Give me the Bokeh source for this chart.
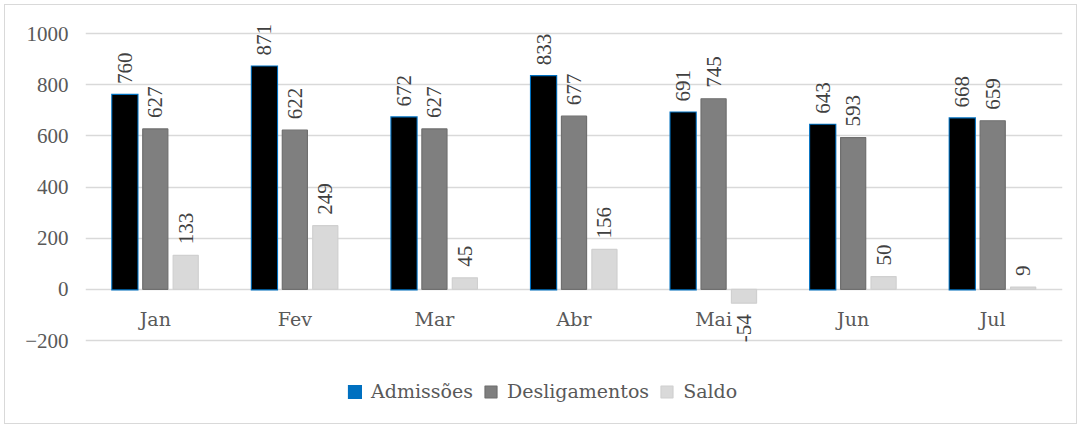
import math
from bokeh.plotting import figure
from bokeh.models import FactorRange, Range1d, FixedTicker, ColumnDataSource, Legend, LegendItem
from bokeh.transform import dodge
from bokeh.core.properties import value
from bokeh.embed import file_html
from bokeh.resources import INLINE

# ---- data ----
months = ["Jan", "Fev", "Mar", "Abr", "Mai", "Jun", "Jul"]
admissoes = [760, 871, 672, 833, 691, 643, 668]
desligamentos = [627, 622, 627, 677, 745, 593, 659]
saldo = [133, 249, 45, 156, -54, 50, 9]
series_names = ["Admissões", "Desligamentos", "Saldo"]
y_ticks = [-200, 0, 200, 400, 600, 800, 1000]

# ---- layout ----
W, H = 1073, 420
LEFT, RIGHT, TOP, BOTTOM = 80, 16, 0, 8
frame_h = H - TOP - BOTTOM
px_per_unit = 307 / 1200.0
y_end = y_ticks[-1] + 28 / px_per_unit
y_start = y_end - frame_h / px_per_unit

NUM_FONT = value("Liberation Serif")
TXT_FONT = value("DejaVu Serif")
TEXT_COLOR = "#595959"

p = figure(width=W, height=H, x_range=FactorRange(factors=months),
           y_range=Range1d(y_start, y_end), x_axis_location=None,
           output_backend="svg", toolbar_location=None,
           min_border_left=LEFT, min_border_right=RIGHT,
           min_border_top=TOP, min_border_bottom=BOTTOM)
p.margin = (4, 0, 0, 4)
p.styles = {"border": "1px solid #d9d9d9"}
p.outline_line_color = None
p.xgrid.grid_line_color = None
p.ygrid.ticker = FixedTicker(ticks=y_ticks)
p.ygrid.grid_line_color = "#d9d9d9"
p.ygrid.grid_line_width = 1.5

p.yaxis.ticker = FixedTicker(ticks=y_ticks)
p.yaxis.axis_line_color = None
p.yaxis.major_tick_line_color = None
p.yaxis.minor_tick_line_color = None
p.yaxis.major_tick_out = 0
p.yaxis.major_label_standoff = 17
p.yaxis.major_label_text_font = "Liberation Serif"
p.yaxis.major_label_text_font_size = "21px"
p.yaxis.major_label_text_color = TEXT_COLOR

OFF = 0.218
BW = 0.18
specs = [
    (admissoes, -OFF, "#000000", "#0070C0"),
    (desligamentos, 0.0, "#7f7f7f", "#6f6f6f"),
    (saldo, OFF, "#d9d9d9", "#d0d0d0"),
]
renderers = []
for k, (vals, off, fill, line) in enumerate(specs):
    src = ColumnDataSource(dict(x=months, top=vals))
    xs = dodge("x", off, range=p.x_range)
    if k == 0:
        # blue bar with outline, black fill drawn over it -> thin blue edge
        r = p.vbar(x=xs, top="top", bottom=0, width=BW, source=src,
                   fill_color=line, line_color=line, line_width=2.2,
                   line_join="miter")
        p.vbar(x=xs, top="top", bottom=0, width=BW, source=src,
               fill_color=fill, line_color=None)
    else:
        r = p.vbar(x=xs, top="top", bottom=0, width=BW, source=src,
                   fill_color=fill, line_color=line, line_width=1.2)
    renderers.append(r)
    pos = [(m, v, str(v)) for m, v in zip(months, vals) if v >= 0]
    neg = [(m, v, str(v)) for m, v in zip(months, vals) if v < 0]
    for items, align, yoff in ((pos, "left", -11), (neg, "right", 11)):
        if not items:
            continue
        s = ColumnDataSource(dict(x=[i[0] for i in items], y=[i[1] for i in items],
                                  t=[i[2] for i in items]))
        p.text(x=dodge("x", off, range=p.x_range), y="y", text="t", source=s,
               angle=math.pi / 2, text_align=align, text_baseline="middle",
               y_offset=yoff, text_font=NUM_FONT, text_font_size="21px",
               text_color="#404040")

# category labels at the zero line
cat_src = ColumnDataSource(dict(x=months, y=[0] * len(months)))
p.text(x="x", y="y", text="x", source=cat_src, text_align="center",
       text_baseline="middle", y_offset=30, text_font=TXT_FONT,
       text_font_size="19px", text_color=TEXT_COLOR)

# legend
legend = Legend(items=[LegendItem(label=series_names[i], renderers=[renderers[i]])
                       for i in range(3)],
                orientation="horizontal", location=(262, 15),
                border_line_color=None, background_fill_alpha=0,
                label_text_font="DejaVu Serif", label_text_font_size="19px",
                label_text_color=TEXT_COLOR, glyph_width=15, glyph_height=15,
                label_standoff=9, spacing=10, padding=0, margin=0)
p.add_layout(legend)

open("out.html", "w").write(file_html(p, INLINE))
